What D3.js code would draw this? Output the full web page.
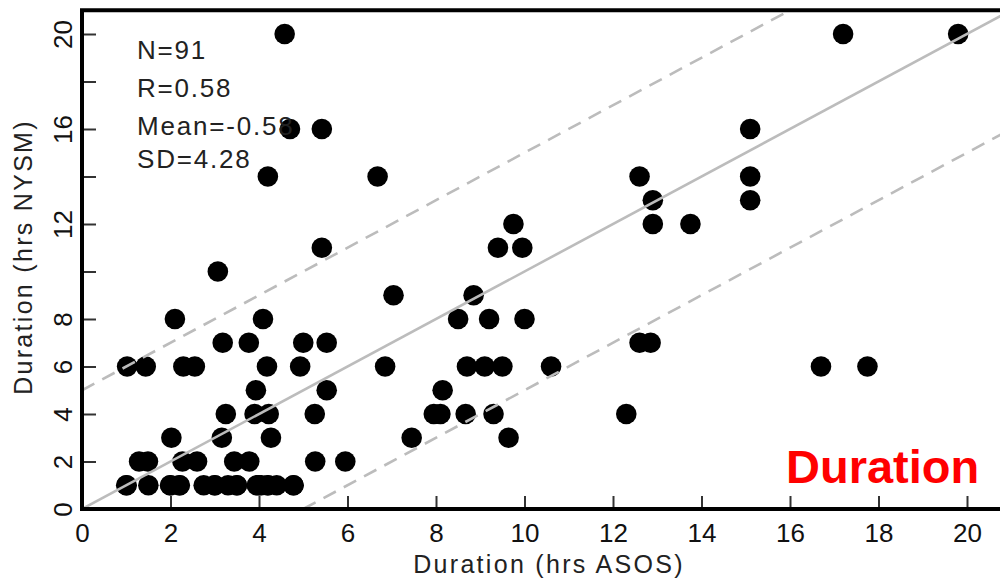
<!DOCTYPE html>
<html>
<head>
<meta charset="utf-8">
<script src="https://cdn.jsdelivr.net/npm/d3@7"></script>
<style>
  html, body { margin: 0; padding: 0; background: #fff; }
  svg { display: block; }
  text { font-family: "Liberation Sans", Arial, Helvetica, sans-serif; }
</style>
</head>
<body>
<svg id="chart" width="1000" height="581"></svg>
<script>
// ---- data (hours) ----
const durASOS = [
  4.58, 17.2, 19.8,
  4.7, 5.42, 15.1,
  4.2, 6.68, 12.6, 15.1,
  12.9, 15.1,
  9.75, 12.9, 13.75,
  5.42, 9.4, 9.95,
  3.07,
  7.04, 8.85,
  2.1, 4.09, 8.5, 9.2, 10.0,
  3.18, 3.77, 5.0, 5.53, 12.6, 12.85,
  1.02, 1.44, 2.29, 2.55, 4.18, 4.93, 6.85, 8.7, 9.1, 9.5, 10.6, 16.7, 17.75,
  3.93, 5.53, 8.15,
  3.25, 3.9, 4.22, 5.26, 7.95, 8.1, 8.67, 9.3, 12.3,
  2.02, 3.16, 4.27, 7.45, 9.64,
  1.29, 1.49, 2.27, 2.6, 3.44, 3.78, 5.27, 5.95,
  1.01, 1.5, 1.99, 2.21, 2.75, 3.0, 3.3, 3.5, 3.95, 4.05, 4.2, 4.4, 4.78,
  1.0, 2.0, 2.2, 3.0, 3.5, 4.0, 4.2, 4.78
];
const durNYSM = [
  20, 20, 20,
  16, 16, 16,
  14, 14, 14, 14,
  13, 13,
  12, 12, 12,
  11, 11, 11,
  10,
  9, 9,
  8, 8, 8, 8, 8,
  7, 7, 7, 7, 7, 7,
  6, 6, 6, 6, 6, 6, 6, 6, 6, 6, 6, 6, 6,
  5, 5, 5,
  4, 4, 4, 4, 4, 4, 4, 4, 4,
  3, 3, 3, 3, 3,
  2, 2, 2, 2, 2, 2, 2, 2,
  1, 1, 1, 1, 1, 1, 1, 1, 1, 1, 1, 1, 1,
  1, 1, 1, 1, 1, 1, 1, 1
];
const refOffsets = [0, 5, -5];            // y = x + offset
const xTicks = [0, 2, 4, 6, 8, 10, 12, 14, 16, 18, 20];
const yTicks = [0, 2, 4, 6, 8, 10, 12, 14, 16, 18, 20];
const yTickLabels = [0, 2, 4, 6, 8, 12, 16, 20];
const statLines = ["N=91", "R=0.58", "Mean=-0.58", "SD=4.28"];
const xTitle = "Duration (hrs ASOS)";
const yTitle = "Duration (hrs NYSM)";
const tag = "Duration";
const domainMax = 21;

// ---- layout ----
const svg = d3.select("#chart");
const x = d3.scaleLinear().domain([0, domainMax]).range([82, 82 + 44.25 * domainMax]);
const y = d3.scaleLinear().domain([0, domainMax]).range([509, 509 - 23.75 * domainMax]);

const defs = svg.append("defs");
defs.append("clipPath").attr("id", "plotclip")
  .append("rect")
  .attr("x", x(0)).attr("y", y(domainMax))
  .attr("width", x(domainMax) - x(0)).attr("height", y(0) - y(domainMax));

// points
const pts = durASOS.map((d, i) => ({ x: d, y: durNYSM[i] }));
svg.append("g").attr("clip-path", "url(#plotclip)")
  .selectAll("circle").data(pts).join("circle")
  .attr("cx", d => x(d.x)).attr("cy", d => y(d.y))
  .attr("r", 10.3).attr("fill", "#000");

// reference lines (drawn over points)
const lineG = svg.append("g").attr("clip-path", "url(#plotclip)");
refOffsets.forEach(off => {
  const x0 = Math.max(0, -off), x1 = Math.min(domainMax, domainMax - off);
  lineG.append("line")
    .attr("x1", x(x0)).attr("y1", y(x0 + off))
    .attr("x2", x(x1)).attr("y2", y(x1 + off))
    .attr("stroke", "#bcbcbc").attr("stroke-width", 2.6)
    .attr("stroke-dasharray", off === 0 ? null : "14,9");
});

// axes
const xAxis = d3.axisBottom(x).tickValues(xTicks).tickSizeInner(-13).tickSizeOuter(0).tickPadding(15);
const gx = svg.append("g").attr("transform", `translate(0,${y(0)})`).call(xAxis);
gx.select(".domain").remove();
gx.selectAll(".tick line").attr("stroke", "#333").attr("stroke-width", 2);
gx.selectAll(".tick text").attr("font-size", 26).attr("fill", "#111")
  .style("font-family", '"Liberation Sans", Arial, sans-serif');

const yAxis = d3.axisLeft(y).tickValues(yTicks).tickSizeInner(-14).tickSizeOuter(0)
  .tickFormat(d => yTickLabels.includes(d) ? d : "");
const gy = svg.append("g").attr("transform", `translate(${x(0)},0)`).call(yAxis);
gy.select(".domain").remove();
gy.selectAll(".tick line").attr("stroke", "#333").attr("stroke-width", 2);
gy.selectAll(".tick text")
  .attr("font-size", 26).attr("fill", "#111")
  .style("font-family", '"Liberation Sans", Arial, sans-serif')
  .attr("text-anchor", "middle")
  .attr("x", 0).attr("y", -10).attr("dy", 0)
  .attr("transform", "rotate(-90)");

// frame
svg.append("rect")
  .attr("x", x(0)).attr("y", y(domainMax))
  .attr("width", x(domainMax) - x(0)).attr("height", y(0) - y(domainMax))
  .attr("fill", "none").attr("stroke", "#000").attr("stroke-width", 4);

// stats text
const statY = [59, 97, 135, 168];
svg.append("g").selectAll("text").data(statLines).join("text")
  .attr("x", 137).attr("y", (d, i) => statY[i])
  .attr("font-size", 26).attr("letter-spacing", 1.8).attr("fill", "#222")
  .text(d => d);

// axis titles
svg.append("text")
  .attr("x", 549).attr("y", 573).attr("text-anchor", "middle")
  .attr("font-size", 25).attr("letter-spacing", 2.3).attr("fill", "#222")
  .text(xTitle);
svg.append("text")
  .attr("transform", "translate(32,257) rotate(-90)")
  .attr("text-anchor", "middle")
  .attr("font-size", 25).attr("letter-spacing", 2.3).attr("fill", "#222")
  .text(yTitle);

// red tag
svg.append("text")
  .attr("x", 786).attr("y", 483)
  .attr("font-size", 47).attr("font-weight", "bold").attr("fill", "#ff0000")
  .text(tag);
</script>
</body>
</html>
